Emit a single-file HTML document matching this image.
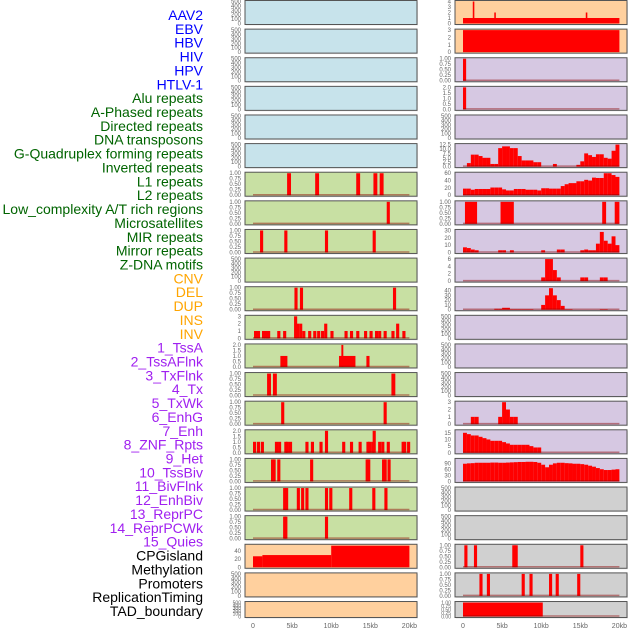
<!DOCTYPE html>
<html><head><meta charset="utf-8">
<style>
html,body{margin:0;padding:0;background:#fff;}
svg{display:block;font-family:"Liberation Sans",sans-serif;}
</style></head>
<body>
<svg id="chart" width="630" height="630" viewBox="0 0 630 630"></svg>
<script>
// ---------- data (kb positions) ----------
const trackLabels = ["AAV2","EBV","HBV","HIV","HPV","HTLV-1","Alu repeats","A-Phased repeats","Directed repeats","DNA transposons","G-Quadruplex forming repeats","Inverted repeats","L1 repeats","L2 repeats","Low_complexity A/T rich regions","Microsatellites","MIR repeats","Mirror repeats","Z-DNA motifs","CNV","DEL","DUP","INS","INV","1_TssA","2_TssAFlnk","3_TxFlnk","4_Tx","5_TxWk","6_EnhG","7_Enh","8_ZNF_Rpts","9_Het","10_TssBiv","11_BivFlnk","12_EnhBiv","13_ReprPC","14_ReprPCWk","15_Quies","CPGisland","Methylation","Promoters","ReplicationTiming","TAD_boundary"];
const xTickLabels = ["0","5kb","10kb","15kb","20kb"];
const xTickValues = [0,5,10,15,20];

const aluPos = [4.36,7.95,13.2,15.4,16.2];
const aphasedPos = [17.1];
const directedPos = [0.9,4.0,9.2,15.3];
const gquadPos = [5.3,6.0,17.9];
const invertedPos = [0.13,0.5,1.15,1.4,1.67,1.8,3.1,3.85,5.25,5.5,5.9,6.3,7.05,7.7,8.2,8.7,9.1,9.9,11.7,12.4,13.2,14.2,14.9,15.6,16.0,16.7,17.7,18.3,19.1];
const invertedVal = [1,1,1,1,1,1,1,1,3,2,2,1,1,1,1,1,2,1,1,1,1,1,1,1,1,1,1,2,1];
const lowcStart = [3.5,11.0,11.3,14.5];
const lowcEnd = [4.4,13.1,11.55,14.9];
const lowcVal = [1,1,2,1];
const microPos = [1.8,2.55,17.7];
const mirPos = [3.6,16.7];
const mirrorPos = [0,0.5,1.0,2.8,3.2,4.0,4.2,4.6,6.7,7.4,8.5,9.2,11.4,12.4,13.5,14.5,14.7,15.1,15.3,16.0,16.4,17.1,19.0,19.2,19.7];
const mirrorVal = [1,1,1,1,1,1,1,1,1,1,1,2,1,1,1,1,1,1,2,1,1,1,1,1,1];
const tssbivPos = [2.3,2.5,3.1,7.3,14.4,14.6,16.5,16.7,17.2];
const bivflnkPos = [3.85,4.1,5.6,6.15,6.7,9.2,9.75,12.3,15.25,16.8];
const enhbivPos = [3.85,4.0,9.2];
const cpgStart = [0,1.2,10];
const cpgEnd = [1.2,10,20];
const cpgVal = [27,30,53];

const aav2Start = [0,1.25,4.0,15.7];
const aav2End = [20,1.45,4.2,15.9];
const aav2Val = [1,4,2,2];
const ebvVal = [3];
const gquadBins = [0,2,6.8,6.8,6,5,5,1.5,1.5,10.5,11.5,11.5,10.5,10.5,6,3.5,3.5,3.5,2.5,2.5,0,0,0,1.5,0,0,0,0,0,1,3,7.5,6.5,5.5,7,7,5,4.5,9,12.5];
const l1Bins = [18,18,15,17,17,17,17,21,21,21,16,13,13,17,17,17,15,15,15,13,19,19,18,18,18,25,30,33,33,38,38,42,40,48,47,47,60,60,55,50];
const lowcRStart = [0.25,4.8,17.8,19.4];
const lowcREnd = [1.8,6.5,18.3,20];
const microBins = [7,6,4,3,0,0,0,0,0,3,3,0,3,0,0,0,0,0,0,0,3,0,0,0,4,4,0,0,0,0,3,4,3,3,12,28,16,12,22,10];
const mirRBins = [0,0,0,0,0,0,0,0,0,0,0,0,0,0,0,0,0,0,0,0,1,6,6,3,1,0,0,0,0,0,1,1,0,0,0,1,1,0,0,0];
const zdnaBins = [0,0,0,0,0,0,0,0,2,2,4,4,1,1,1,1,1,1,0,0,10,30,45,30,20,8,1,1,0,0,0,0,0,0,0,1,1,0,0,0];
const tssaBins = [0,0,1,1,0,0,0,0,0,1,3,2,1,1,0,0,0,0,0,0,0,0,0,0,0,0,0,0,0,0,0,0,0,0,0,0,0,0,0,0];
const txflnkBins = [15,14,13,13,12,11,10,9,9,9,8,7,6,6,6,6,6,5,4,4];
const txBins = [90,92,93,95,95,95,95,96,96,95,95,96,97,98,99,99,100,100,99,95,85,72,85,92,95,95,93,92,90,90,88,85,80,75,68,62,58,58,60,62];
const tssRPos = [0.17,1.4,6.3,6.6,15.0];
const flnkRPos = [2.1,3.05,7.5,8.5,11.0,11.85,14.6];
const tadStart = [0];
const tadEnd = [10.2];

// ---------- layout ----------
const COLORS = {blue:"#c7e3eb",green:"#c8e0a3",orange:"#ffd09e",purple:"#d6c8e2",grey:"#d0d0d0"};
const svg = document.getElementById('chart');
const NS = "http://www.w3.org/2000/svg";
function mk(tag, attrs, parent){ const e=document.createElementNS(NS,tag); for(const k in attrs) e.setAttribute(k,attrs[k]); (parent||svg).appendChild(e); return e; }

const groupColor = i => i<6?"#0000ff":i<19?"#006400":i<24?"#ffa500":i<39?"#a020f0":"#000";
trackLabels.forEach((t,i)=>{
  const el = mk('text',{x:203,y:20+i*13.86,'text-anchor':'end','font-size':14,fill:groupColor(i)});
  el.textContent=t;
  
  
});

function spikes(pos, vals, w){ return pos.map((p,i)=>({s:p,e:p+(w||0.4),v:vals?vals[i]:1})); }
function blocks(st, en, vals){ return st.map((s,i)=>({s:s,e:en[i],v:vals?vals[i]:1})); }
function bins(vals){ return vals.map((v,i)=>({s:i*0.5,e:i*0.5+0.5,v:v})).filter(d=>d.v>0); }
const T01=[0,0.25,0.5,0.75,1], T02=[0,0.5,1,1.5,2], TE=[0,100,200,300,400,500];
const EMPTY = {ymax:500,ticks:TE,dec:0,marks:[],base:false};
function P(ymax,ticks,dec,marks){return {ymax:ymax,ticks:ticks,dec:dec,marks:marks,base:true};}

const leftPanels = [
  ["blue",EMPTY],["blue",EMPTY],["blue",EMPTY],["blue",EMPTY],["blue",EMPTY],["blue",EMPTY],
  ["green",P(1,T01,2,spikes(aluPos,null,0.5))],
  ["green",P(1,T01,2,spikes(aphasedPos))],
  ["green",P(1,T01,2,spikes(directedPos))],
  ["green",EMPTY],
  ["green",P(1,T01,2,spikes(gquadPos))],
  ["green",P(3,[0,1,2,3],0,spikes(invertedPos,invertedVal))],
  ["green",P(2,T02,1,blocks(lowcStart,lowcEnd,lowcVal))],
  ["green",P(1,T01,2,spikes(microPos,null,0.5))],
  ["green",P(1,T01,2,spikes(mirPos))],
  ["green",P(2,T02,1,spikes(mirrorPos,mirrorVal))],
  ["green",P(1,T01,2,spikes(tssbivPos))],
  ["green",P(1,T01,2,spikes(bivflnkPos))],
  ["green",P(1,T01,2,spikes(enhbivPos))],
  ["orange",Object.assign(P(54,[0,20,40],0,blocks(cpgStart,cpgEnd,cpgVal)),{base:false})],
  ["orange",EMPTY],["orange",EMPTY]
];
const rightPanels = [
  ["orange",Object.assign(P(4,[0,1,2,3,4],0,blocks(aav2Start,aav2End,aav2Val)),{base:false})],
  ["orange",Object.assign(P(3,[0,1,2,3],0,blocks([0],[20],ebvVal)),{base:false})],
  ["purple",P(1,T01,2,spikes([0],null,0.4))],
  ["purple",P(2,T02,1,spikes([0],[2],0.4))],
  ["purple",EMPTY],
  ["purple",P(12.5,[0,2.5,5,7.5,10,12.5],1,bins(gquadBins))],
  ["purple",P(60,[0,20,40,60],0,bins(l1Bins))],
  ["purple",P(1,T01,2,blocks(lowcRStart,lowcREnd))],
  ["purple",P(30,[0,10,20,30],0,bins(microBins))],
  ["purple",P(6,[0,2,4,6],0,bins(mirRBins))],
  ["purple",P(46,[0,10,20,30,40],0,bins(zdnaBins))],
  ["purple",EMPTY],["purple",EMPTY],["purple",EMPTY],
  ["purple",P(3,[0,1,2,3],0,bins(tssaBins))],
  ["purple",P(16.5,[0,5,10,15],0,bins(txflnkBins))],
  ["purple",P(112,[0,30,60,90],0,bins(txBins))],
  ["grey",EMPTY],["grey",EMPTY],
  ["grey",P(1,T01,2,spikes(tssRPos))],
  ["grey",P(1,T01,2,spikes(flnkRPos))],
  ["grey",P(1,T01,2,blocks(tadStart,tadEnd))]
];

function drawPanel(col, row, color, p){
  const left = col===0?245:455, w=172;
  const top = 0.5 + row*28.62;
  const h = row===21?16:24;
  const inner = h-2;
  const x = kb => left + 8 + kb*7.82;
  const y = v => top + h - 1 - v/p.ymax*inner;
  const g = mk('g',{});
  
  
  mk('rect',{x:left+1,y:top+1,width:w,height:h,fill:"#e8e8e8"},g);
  mk('rect',{x:left,y:top,width:w,height:h,fill:COLORS[color],stroke:"#555",'stroke-width':1},g);
  p.marks.forEach(m=>{
    const yt=Math.max(top+0.5,y(m.v));
    const r = mk('rect',{x:x(m.s),y:yt,width:Math.max(1,x(m.e)-x(m.s)),height:y(0)-yt,fill:"#ff0000"},g);
    
    
  });
  if(p.base) mk('line',{x1:x(0),x2:x(20),y1:top+h-1.5,y2:top+h-1.5,stroke:"rgba(140,0,0,0.45)",'stroke-width':1.5},g);
  p.ticks.forEach(t=>{
    const tl = mk('text',{x:left-4,y:y(t)+2,'text-anchor':'end','font-size':row===21?5:6,fill:"#666"},g);
    tl.textContent = t.toFixed(p.dec);
    
    
  });
  if(row===21){
    xTickValues.forEach((v,i)=>{
      const xl = mk('text',{x:x(v),y:628,'text-anchor':'middle','font-size':7,fill:"#666"},g);
      xl.textContent = xTickLabels[i];
      
      
    });
  }
}
leftPanels.forEach((d,i)=>drawPanel(0,i,d[0],d[1]));
rightPanels.forEach((d,i)=>drawPanel(1,i,d[0],d[1]));
</script>
</body></html>
